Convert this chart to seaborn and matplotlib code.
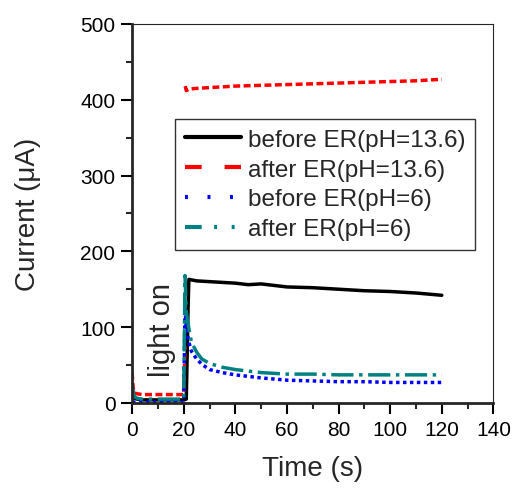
import numpy as np
import pandas as pd
import matplotlib
matplotlib.use("Agg")
import matplotlib.pyplot as plt
import seaborn as sns

# time (s) and current (uA)
t_black = [0, 0.5, 1, 2, 4, 8, 12, 16, 20, 21, 21.7, 22, 25, 30, 35, 40, 45, 50, 60, 70, 80, 90, 100, 110, 120]
i_black = [20, 10, 6, 5, 4, 4, 4, 4, 4, 5, 127, 163, 161, 160, 159, 158, 156, 157, 153, 152, 150, 148, 147, 145, 142]

t_red_low = [0, 0.3, 0.6, 1, 2, 4, 8, 12, 16, 20, 20.5]
i_red_low = [40, 25, 16, 13, 12, 11, 11, 11, 11, 11, 75]
t_red_high = [20.6, 21, 22, 25, 30, 40, 50, 60, 70, 80, 90, 100, 110, 120]
i_red_high = [418, 412, 414, 415, 416, 418, 419, 420, 421, 422, 423, 424, 425, 427]

t_blue = [0, 1, 2, 4, 8, 12, 16, 20, 20.5, 21, 22, 23, 25, 27, 30, 35, 40, 50, 60, 70, 80, 90, 100, 110, 120]
i_blue = [1, 1, 1, 1, 1, 1, 1, 1, 125, 100, 80, 68, 58, 51, 44, 40, 37, 33, 30, 29, 28, 28, 27, 27, 27]

t_teal = [0, 0.5, 1, 2, 4, 8, 12, 16, 20, 20.5, 21, 22, 23, 25, 27, 30, 35, 40, 50, 60, 70, 80, 90, 100, 110, 120]
i_teal = [25, 12, 8, 6, 5, 5, 5, 5, 5, 168, 120, 98, 80, 67, 58, 52, 47, 44, 40, 38, 38, 37, 37, 37, 37, 37]

labels = ["before ER(pH=13.6)", "after ER(pH=13.6)", "before ER(pH=6)", "after ER(pH=6)"]
colors = ["black", "#ff0000", "#0000ff", "#008080"]
styles = ["-", (0, (4, 5.5)), (0, (0.7, 4.7)), (0, (4, 3, 0.7, 3.5, 0.7, 3.5))]

sns.set_style("ticks")
plt.rcParams["font.family"] = ["Liberation Sans", "DejaVu Sans"]

fig = plt.figure(figsize=(5.14, 4.89), dpi=100)
ax = fig.add_axes([0.257, 0.174, 0.703, 0.775])

sns.lineplot(x=t_black, y=i_black, ax=ax, color=colors[0], lw=2.5, ls="-", label=labels[0])
sns.lineplot(x=t_red_low, y=i_red_low, ax=ax, color=colors[1], lw=2.5, ls=(0, (2, 1)))
sns.lineplot(x=t_red_high, y=i_red_high, ax=ax, color=colors[1], lw=2.5, ls=(0, (2, 1)), label=labels[1])
sns.lineplot(x=t_blue, y=i_blue, ax=ax, color=colors[2], lw=2.5, ls=(0, (1, 1)), label=labels[2])
sns.lineplot(x=t_teal, y=i_teal, ax=ax, color=colors[3], lw=2.5, ls="-.", label=labels[3])

ax.set_xlim(0, 140)
ax.set_ylim(0, 500)
ax.set_xticks(range(0, 141, 20))
ax.set_yticks(range(0, 501, 100))
ax.set_xticks(range(10, 141, 20), minor=True)
ax.set_yticks(range(50, 501, 100), minor=True)
ax.tick_params(axis="both", which="major", direction="out", length=8, width=1.5,
               labelsize=15, colors="black", pad=4)
ax.tick_params(axis="both", which="minor", direction="out", length=4, width=1.5)
ax.set_xlabel("Time (s)", fontsize=20, labelpad=12)
ax.set_ylabel("Current (\u03bcA)", fontsize=20, labelpad=28)

for side in ["left", "bottom"]:
    ax.spines[side].set_linewidth(2)
for side in ["top", "right"]:
    ax.spines[side].set_linewidth(0.8)
    ax.spines[side].set_visible(True)

ax.text(11.6, 98, "light on", rotation=90, ha="center", va="center", fontsize=21)

leg = ax.legend(loc="upper left", bbox_to_anchor=(0.119, 0.749), borderaxespad=0,
                fontsize=17.5, frameon=True, fancybox=False, edgecolor="black",
                handlelength=2.3, handletextpad=0.3, labelspacing=0.32, borderpad=0.4)
leg.get_frame().set_linewidth(1)
for h, st in zip(leg.get_lines(), styles):
    h.set_linewidth(3)
    h.set_linestyle(st)

fig.savefig("out.png", dpi=100)
